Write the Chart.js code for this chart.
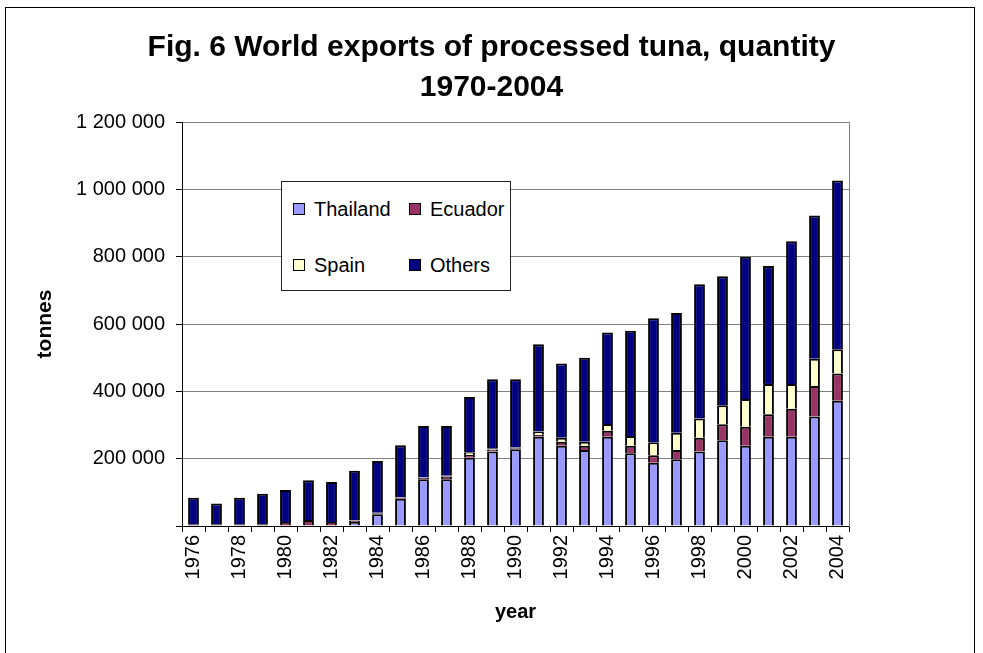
<!DOCTYPE html>
<html>
<head>
<meta charset="utf-8">
<title>World exports of processed tuna</title>
<script src="https://cdn.jsdelivr.net/npm/chart.js@4.4.1/dist/chart.umd.min.js"></script>
<style>
    html, body { margin: 0; padding: 0; background: #fff; overflow: hidden; }
    #wrap { position: relative; width: 983px; height: 653px; }
    #frame {
        position: absolute; left: 5px; top: 7px; width: 970px; height: 700px;
        border: 1px solid #000; box-sizing: border-box; pointer-events: none;
    }
    #legend {
        position: absolute; left: 281px; top: 181px; width: 230px; height: 110px;
        border: 1px solid #222; box-sizing: border-box; background: #fff;
        font: 20px 'Liberation Sans', Arial, sans-serif; color: #000;
    }
    .legend-item { position: absolute; height: 24px; display: flex; align-items: center; white-space: nowrap; }
    .legend-box { width: 12px; height: 12px; border: 1px solid #000; box-sizing: border-box; margin-right: 9px; }
</style>
</head>
<body>
<div id="wrap">
    <canvas id="tunaChart" width="983" height="653"></canvas>
    <div id="frame"></div>
    <div id="legend"></div>
</div>
<script>
// Exports of processed tuna, tonnes
const years = [1976, 1977, 1978, 1979, 1980, 1981, 1982, 1983, 1984, 1985,
    1986, 1987, 1988, 1989, 1990, 1991, 1992, 1993, 1994, 1995,
    1996, 1997, 1998, 1999, 2000, 2001, 2002, 2003, 2004];

const thailand = [0, 0, 0, 0, 0, 0, 0, 12000, 35000, 81000,
    139000, 139000, 203000, 221000, 228000, 265000, 238000, 226000, 265000, 216000,
    188000, 198000, 221000, 255000, 238000, 265000, 265000, 325000, 372000];

const ecuador = [5000, 5000, 5000, 5000, 12000, 18000, 12000, 4000, 3000, 4000,
    4000, 8000, 8000, 6000, 3000, 6000, 12000, 12000, 18000, 22000,
    22000, 28000, 41000, 47000, 57000, 67000, 83000, 91000, 81000];

const spain = [0, 0, 0, 0, 0, 0, 0, 1000, 1000, 1000,
    1000, 2000, 8000, 4000, 2000, 10000, 12000, 12000, 20000, 29000,
    39000, 51000, 57000, 57000, 82000, 90000, 74000, 81000, 72000];

const others = [79000, 62000, 79000, 91000, 95000, 118000, 119000, 147000, 154000, 154000,
    153000, 148000, 164000, 205000, 203000, 259000, 221000, 250000, 272000, 313000,
    368000, 356000, 399000, 383000, 423000, 350000, 424000, 425000, 501000];

const seriesNames = ['Thailand', 'Ecuador', 'Spain', 'Others'];
const seriesColors = ['#9999ff', '#993366', '#ffffcc', '#000080'];

const yMax = 1200000;
const yStep = 200000;

const FONT = "'Liberation Sans', Arial, sans-serif";

const TunaChart = {
    chart: null,

    formatTonnes(value) {
        if (value === 0) return '';
        return String(value).replace(/\B(?=(\d{3})+(?!\d))/g, ' ');
    },

    renderLegend(datasets) {
        const el = document.getElementById('legend');
        const cols = [11, 127];
        const rows = [15, 71];
        datasets.forEach((ds, i) => {
            const item = document.createElement('div');
            item.className = 'legend-item';
            item.style.left = cols[i % 2] + 'px';
            item.style.top = rows[Math.floor(i / 2)] + 'px';
            const box = document.createElement('span');
            box.className = 'legend-box';
            box.style.background = ds.backgroundColor;
            const label = document.createElement('span');
            label.textContent = ds.label;
            item.appendChild(box);
            item.appendChild(label);
            el.appendChild(item);
        });
    },

    render() {
        Chart.defaults.font.family = FONT;
        Chart.defaults.color = '#000';

        const values = [thailand, ecuador, spain, others];
        const datasets = seriesNames.map((name, i) => ({
            label: name,
            data: values[i],
            backgroundColor: seriesColors[i],
            borderColor: '#000',
            borderWidth: 2,
            borderSkipped: 'start',
            categoryPercentage: 1,
            barPercentage: 0.47,
        }));

        const ctx = document.getElementById('tunaChart').getContext('2d');
        this.chart = new Chart(ctx, {
            type: 'bar',
            data: { labels: years.map(String), datasets },
            options: {
                responsive: false,
                animation: false,
                layout: { padding: 0 },
                plugins: {
                    legend: { display: false },
                    tooltip: { enabled: false },
                    title: {
                        display: true,
                        text: ['Fig. 6 World exports of processed tuna, quantity', '1970-2004'],
                        color: '#000',
                        font: { size: 30, weight: 'bold', lineHeight: 1.35 },
                        padding: { top: 27, bottom: 14 },
                    },
                },
                scales: {
                    x: {
                        stacked: true,
                        grid: {
                            offset: true,
                            drawOnChartArea: false,
                            tickLength: 6,
                            tickColor: '#000',
                        },
                        border: { color: '#000', width: 1 },
                        ticks: {
                            autoSkip: false,
                            minRotation: 90,
                            maxRotation: 90,
                            padding: 3,
                            font: { size: 20 },
                            callback: (value, index) => (index % 2 === 0 ? years[index] : ''),
                        },
                        title: {
                            display: true,
                            text: 'year',
                            font: { size: 20, weight: 'bold' },
                            padding: { top: 0, bottom: 29 },
                        },
                        afterFit: (scale) => { scale.height = 127; },
                    },
                    y: {
                        stacked: true,
                        min: 0,
                        max: yMax,
                        grid: {
                            color: (c) => (c.tick && c.tick.value === 0 ? 'rgba(0,0,0,0)' : '#808080'),
                            tickLength: 6,
                            tickColor: '#000',
                        },
                        border: { color: '#000', width: 1 },
                        ticks: {
                            stepSize: yStep,
                            padding: 11,
                            font: { size: 20 },
                            callback: (value) => this.formatTonnes(value),
                        },
                        title: {
                            display: true,
                            text: 'tonnes',
                            font: { size: 21, weight: 'bold' },
                            padding: { top: 33, bottom: 0 },
                        },
                        afterFit: (scale) => { scale.width = 182; },
                    },
                    // right edge of the plot area, keeps the title centred on the page
                    y2: {
                        position: 'right',
                        min: 0,
                        max: yMax,
                        grid: { display: false },
                        border: { display: true, color: '#808080', width: 1 },
                        ticks: { display: false },
                        afterFit: (scale) => { scale.width = 134; },
                    },
                },
            },
        });

        this.renderLegend(datasets);
    },
};

TunaChart.render();
</script>
</body>
</html>
